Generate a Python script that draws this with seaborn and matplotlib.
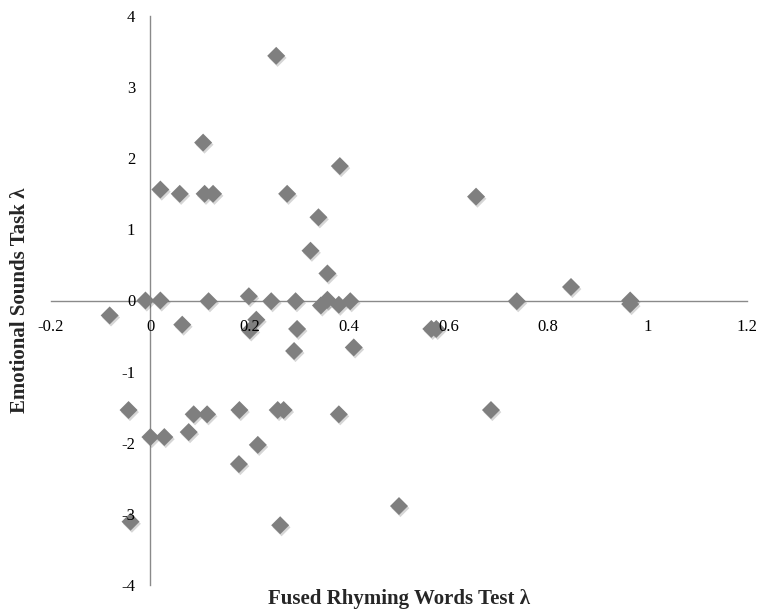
import matplotlib
matplotlib.use("Agg")
import matplotlib.pyplot as plt
import matplotlib.patheffects as pe
import seaborn as sns
import pandas as pd

# Data
rhyming_lambda = [
    -0.082, -0.010, 0.020, 0.020, 0.059, 0.106, 0.109, 0.126, 0.117, 0.198,
    0.253, 0.243, 0.275, 0.292, 0.322, 0.338, 0.356, 0.381, 0.343, 0.356,
    0.379, 0.402, 0.064, 0.213, 0.200, 0.295, 0.289, 0.409, -0.044, 0.000,
    0.028, 0.077, 0.087, 0.114, 0.179, 0.178, 0.216, 0.256, 0.268, 0.379,
    -0.040, 0.261, 0.500, 0.565, 0.575, 0.737, 0.846, 0.965, 0.965, 0.685,
    0.655,
]
emotional_lambda = [
    -0.21, 0.00, 0.00, 1.56, 1.50, 2.22, 1.50, 1.50, -0.01, 0.06,
    3.44, -0.01, 1.50, -0.01, 0.70, 1.17, 0.38, 1.89, -0.07, 0.01,
    -0.06, -0.01, -0.34, -0.27, -0.42, -0.40, -0.71, -0.66, -1.54, -1.92,
    -1.92, -1.85, -1.60, -1.60, -1.54, -2.30, -2.03, -1.54, -1.54, -1.60,
    -3.11, -3.16, -2.89, -0.40, -0.40, -0.01, 0.19, 0.00, -0.05, -1.54,
    1.46,
]
x_ticks = [-0.2, 0, 0.2, 0.4, 0.6, 0.8, 1, 1.2]
x_tick_labels = ["-0.2", "0", "0.2", "0.4", "0.6", "0.8", "1", "1.2"]
y_ticks = [-4, -3, -2, -1, 0, 1, 2, 3, 4]
y_tick_labels = ["-4", "-3", "-2", "-1", "0", "1", "2", "3", "4"]
x_title = "Fused Rhyming Words Test λ"
y_title = "Emotional Sounds Task λ"

df = pd.DataFrame({"x": rhyming_lambda, "y": emotional_lambda})

sns.set_style("white")
plt.rcParams["font.family"] = ["Liberation Serif", "DejaVu Serif"]

W, H = 758, 615
fig = plt.figure(figsize=(W / 100, H / 100), dpi=100)
ax = fig.add_axes([51 / W, 30 / H, 696 / W, 569 / H])

sns.scatterplot(
    data=df, x="x", y="y", ax=ax, marker="D", s=84,
    color="#7f7f7f", linewidth=0, legend=False, zorder=1,
)
for coll in ax.collections:
    coll.set_path_effects([
        pe.SimplePatchShadow(offset=(1.0, -1.5), shadow_rgbFace="#000000", alpha=0.16),
        pe.Normal(),
    ])

ax.set_xlim(-0.2, 1.2)
ax.set_ylim(-4, 4)
ax.set_xticks(x_ticks)
ax.set_xticklabels(x_tick_labels)
ax.set_yticks(y_ticks)
ax.set_yticklabels(y_tick_labels)

for side in ["top", "right"]:
    ax.spines[side].set_visible(False)
for side in ["left", "bottom"]:
    ax.spines[side].set_position(("data", 0))
    ax.spines[side].set_color("#8a8a8a")
    ax.spines[side].set_linewidth(1.0)
    ax.spines[side].set_zorder(0.5)
ax.xaxis.set_zorder(2)
ax.yaxis.set_zorder(2)

ax.tick_params(axis="x", length=0, pad=13.5, labelsize=12, labelcolor="black")
ax.tick_params(axis="y", length=0, pad=11, labelsize=12, labelcolor="black")
ax.set_xlabel("")
ax.set_ylabel("")
ax.set_facecolor("white")

fig.text(399 / W, 1 - 599 / H, x_title, ha="center", va="center",
         fontsize=15, fontweight="bold")
fig.text(20 / W, 1 - 300 / H, y_title, ha="center", va="center",
         rotation=90, fontsize=15, fontweight="bold")

fig.savefig("out.png", dpi=100, facecolor="white")
